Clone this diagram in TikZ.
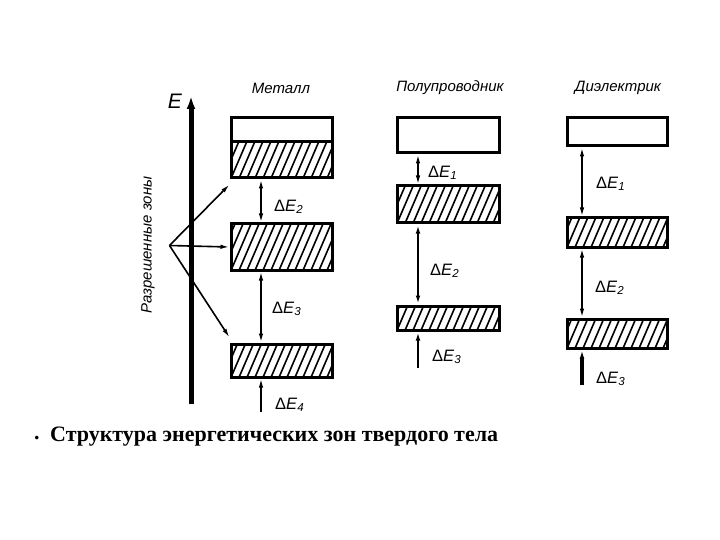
\documentclass[tikz,border=0pt]{standalone}
\usepackage{fontspec}
\setmainfont{Liberation Sans}
\newfontfamily\capfont{Liberation Serif}
\usetikzlibrary{arrows.meta}
\tikzset{
  band/.style={draw, line width=3pt, fill=white, inner sep=0pt, rectangle},
  hatched/.style={band, path picture={
      \foreach \k in {-50,-42,...,120}
        \draw[line width=1.6pt] ([xshift=\k pt,yshift=-5pt]path picture bounding box.south west) -- ++(28,-65);
    }},
  tipA/.tip={Latex[length=9pt,width=4.5pt]},
  gap/.style={line width=1.6pt, tipA-tipA},
  gapup/.style={line width=1.6pt, -tipA},
  lbl/.style={font=\fontsize{15}{17}\selectfont\itshape, inner sep=0pt},
  dlbl/.style={font=\fontsize{16.5}{18}\selectfont, inner sep=0pt, anchor=west},
}
\newcommand{\dE}[1]{Δ\textit{E}\textsubscript{\textit{#1}}}
\begin{document}
\begin{tikzpicture}[x=1pt,y=-1pt]
\useasboundingbox (0,0) rectangle (720,540);
% energy axis
\coordinate (ax0) at (191,404);
\coordinate (ax1) at (191,96);
\draw[line width=5pt, -{Latex[length=13pt,width=9pt]}] (ax0) -- (ax1);
\node[font=\fontsize{21}{23}\selectfont\itshape, inner sep=0pt] (E) at (175,101) {E};
\node[lbl, rotate=90] (zones) at (148,245) {Разрешенные зоны};
% titles
\node[lbl] (tm) at (281,88) {Металл};
\node[lbl] (ts) at (450,88) {Полупроводник};
\node[lbl] (td) at (618,88) {Диэлектрик};
% metal
\node[band, minimum width=101pt, minimum height=24pt] (m1w) at (281.5,130) {};
\node[hatched, minimum width=101pt, minimum height=36pt] (m1h) at (281.5,160) {};
\node[hatched, minimum width=101pt, minimum height=46pt] (m2) at (281.5,247) {};
\node[hatched, minimum width=101pt, minimum height=33pt] (m3) at (281.5,360.5) {};
% semiconductor
\node[band, minimum width=102pt, minimum height=35pt] (s1) at (448,135.5) {};
\node[hatched, minimum width=102pt, minimum height=37pt] (s2) at (448,204.5) {};
\node[hatched, minimum width=102pt, minimum height=24pt] (s3) at (448,318) {};
% dielectric
\node[band, minimum width=100pt, minimum height=28pt] (d1) at (617,132) {};
\node[hatched, minimum width=100pt, minimum height=29pt] (d2) at (617,232.5) {};
\node[hatched, minimum width=100pt, minimum height=29pt] (d3) at (617,333.5) {};
% gap arrows
\coordinate (mx) at (261,0);
\coordinate (sx) at (418,0);
\coordinate (dx) at (582,0);
\coordinate (m4) at (261,412);
\coordinate (s4) at (418,368);
\coordinate (d4) at (582,385);
\draw[gap] (m1h.south -| mx) -- (m2.north -| mx);
\draw[gap] (m2.south -| mx) -- (m3.north -| mx);
\draw[gapup] (m4) -- (m3.south -| mx);
\draw[gap] (s1.south -| sx) -- (s2.north -| sx);
\draw[gap, line width=2pt] (s2.south -| sx) -- (s3.north -| sx);
\draw[gapup, line width=2.6pt] (s4) -- (s3.south -| sx);
\draw[gap] (d1.south -| dx) -- (d2.north -| dx);
\draw[gap] (d2.south -| dx) -- (d3.north -| dx);
\draw[gapup, line width=3.2pt] (d4) -- (d3.south -| dx);
% gap labels
\node[dlbl] (lm2) at (274,207) {\dE{2}};
\node[dlbl] (lm3) at (272,309) {\dE{3}};
\node[dlbl] (lm4) at (275,405) {\dE{4}};
\node[dlbl] (ls1) at (428,173) {\dE{1}};
\node[dlbl] (ls2) at (430,271) {\dE{2}};
\node[dlbl] (ls3) at (432,357) {\dE{3}};
\node[dlbl] (ld1) at (596,184) {\dE{1}};
\node[dlbl] (ld2) at (595,288) {\dE{2}};
\node[dlbl] (ld3) at (596,379) {\dE{3}};
% zone pointer arrows
\coordinate (o) at (169.5,245.5);
\draw[line width=1.6pt, -tipA] (o) -- ([yshift=-5pt]m1h.south west);
\draw[line width=1.6pt, -tipA] (o) -- (m2.west);
\draw[line width=1.6pt, -tipA] (o) -- ([yshift=5pt]m3.north west);
% caption
\node[font=\capfont\bfseries\fontsize{22}{24}\selectfont, inner sep=0pt] (dot) at (37,438) {.};
\node[font=\capfont\bfseries\fontsize{22}{24}\selectfont, inner sep=0pt, anchor=west] (cap) at (50,437) {Структура энергетических зон твердого тела};
\end{tikzpicture}
\end{document}
